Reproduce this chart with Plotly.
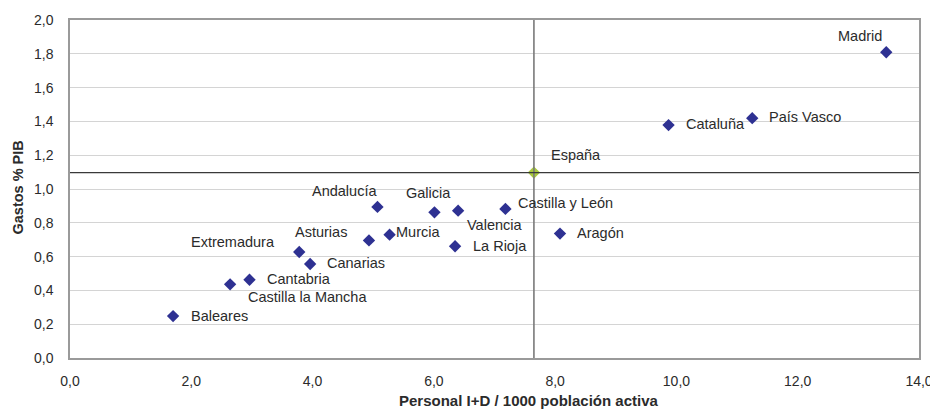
import plotly.graph_objects as go

# ---- data ----
regions = ["Baleares", "Castilla la Mancha", "Cantabria", "Extremadura", "Canarias",
           "Asturias", "Murcia", "Andalucía", "Galicia", "Valencia", "La Rioja",
           "Castilla y León", "Aragón", "Cataluña", "País Vasco", "Madrid"]
personal_id = [1.70, 2.64, 2.96, 3.78, 3.96, 4.93, 5.27, 5.07, 6.01, 6.40, 6.35,
               7.18, 8.08, 9.87, 11.25, 13.46]
gasto_pib = [0.248, 0.436, 0.463, 0.627, 0.556, 0.696, 0.730, 0.894, 0.862, 0.872, 0.661,
             0.882, 0.736, 1.378, 1.419, 1.809]

espana_label = "España"
espana_x = 7.65
espana_y = 1.097

x_ticks = [0, 2, 4, 6, 8, 10, 12, 14]
y_ticks = [0, 0.2, 0.4, 0.6, 0.8, 1.0, 1.2, 1.4, 1.6, 1.8, 2.0]

# ---- label placement (style) ----
label_pos = {
    "Baleares": ("left", 16, 0),
    "Castilla la Mancha": ("left", 16, -13),
    "Cantabria": ("left", 15, 1),
    "Extremadura": ("right", -22, 10),
    "Canarias": ("left", 15, 1),
    "Asturias": ("right", -20, 8),
    "Murcia": ("left", 4, 3),
    "Andalucía": ("right", 2, 16),
    "Galicia": ("center", -5.5, 19),
    "Valencia": ("left", 6.5, -14),
    "La Rioja": ("left", 15.5, 0),
    "Castilla y León": ("left", 11, 5.5),
    "Aragón": ("left", 15, 1),
    "Cataluña": ("left", 15, 1),
    "País Vasco": ("left", 15, 1),
    "Madrid": ("right", -2.5, 16),
    "España": ("left", 15, 18),
}

FONT = "Liberation Sans, Arial, sans-serif"
TXT = "#2b2b2b"
OFF = 8  # page body margin
W, H = 938, 415
L, R, T, B = 70 - OFF, 19 + OFF, 20 - OFF, 57 + OFF
PW, PH = W - L - R, H - T - B

fig = go.Figure()
fig.add_trace(go.Scatter(
    x=personal_id, y=gasto_pib, mode="markers", text=regions,
    marker=dict(symbol="diamond", size=9.5, color="#2e3192"),
    hoverinfo="text+x+y", showlegend=False))

# reference lines through España
fig.add_shape(type="line", xref="x", yref="paper", x0=espana_x, x1=espana_x, y0=0, y1=1,
              line=dict(color="#7a7a7a", width=1.6), layer="above")
fig.add_shape(type="line", xref="paper", yref="y", x0=0, x1=1, y0=espana_y, y1=espana_y,
              line=dict(color="#3a3a3a", width=1.2), layer="above")

fig.add_trace(go.Scatter(
    x=[espana_x], y=[espana_y], mode="markers", text=[espana_label],
    marker=dict(symbol="diamond", size=9.5, color="#a8c83c"),
    hoverinfo="text+x+y", showlegend=False))

for name, xv, yv in list(zip(regions, personal_id, gasto_pib)) + [(espana_label, espana_x, espana_y)]:
    anc, dx, dy = label_pos[name]
    fig.add_annotation(x=xv, y=yv, xref="x", yref="y", text=name, showarrow=False,
                       xanchor=anc, yanchor="middle", xshift=dx, yshift=dy,
                       font=dict(family=FONT, size=14.5, color=TXT))

fig.add_annotation(text="<b>Personal I+D / 1000 población activa</b>", xref="paper", yref="paper",
                   x=(529 - OFF - L) / PW, y=-(400 - OFF - (H - B)) / PH,
                   xanchor="center", yanchor="middle",
                   showarrow=False, font=dict(family=FONT, size=15, color=TXT))
fig.add_annotation(text="<b>Gastos % PIB</b>", xref="paper", yref="paper",
                   x=-(L - (17 - OFF)) / PW, y=((H - B + OFF) - 187.5) / PH,
                   xanchor="center", yanchor="middle", textangle=-90,
                   showarrow=False, font=dict(family=FONT, size=14.5, color=TXT))

fig.update_layout(
    width=W, height=H,
    margin=dict(l=L, r=R, t=T, b=B, pad=0, autoexpand=False),
    paper_bgcolor="white", plot_bgcolor="white",
    separators=", ",
    font=dict(family=FONT, size=14, color=TXT),
    xaxis=dict(range=[0, 14], tickvals=x_ticks, tickformat=".1f", showgrid=False,
               showline=True, linecolor="#9a9a9a", linewidth=1.5, mirror=True,
               ticks="", zeroline=False, ticklabelstandoff=9, automargin=False,
               tickfont=dict(family=FONT, size=14, color=TXT)),
    yaxis=dict(range=[0, 2], tickvals=y_ticks, tickformat=".1f", showgrid=True,
               gridcolor="#d4d4d4", gridwidth=1,
               showline=True, linecolor="#9a9a9a", linewidth=1.5, mirror=True,
               ticks="", zeroline=False, ticklabelstandoff=12, automargin=False,
               tickfont=dict(family=FONT, size=14, color=TXT)),
)

fig.write_html("out.html")
